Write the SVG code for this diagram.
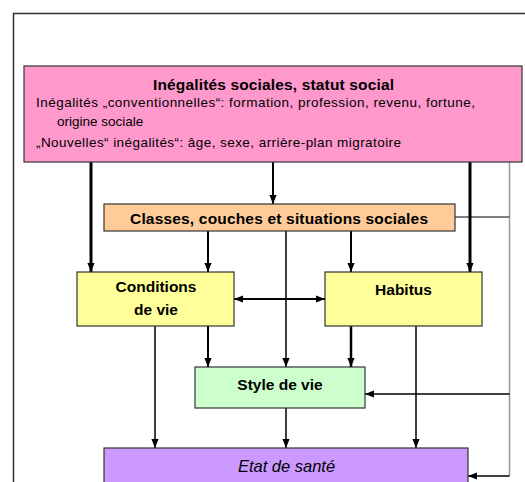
<svg xmlns="http://www.w3.org/2000/svg" width="525" height="482" viewBox="0 0 525 482">
<style>
  text { font-family: "Liberation Sans", Arial, sans-serif; fill: #000; }
  .b { font-weight: bold; font-size: 15.5px; text-anchor: middle; }
  .t { font-size: 13.5px; }
  .box { stroke: #333; stroke-width: 1.2; }
  .c { fill: none; stroke: #000; }
</style>
<defs>
  <marker id="ah" viewBox="0 0 10 10" refX="10" refY="5" markerUnits="userSpaceOnUse" markerWidth="9" markerHeight="9" orient="auto">
    <path d="M0,1 L10,5 L0,9 z" fill="#000"/>
  </marker>
  <marker id="ahs" viewBox="0 0 10 10" refX="0" refY="5" markerUnits="userSpaceOnUse" markerWidth="9" markerHeight="9" orient="auto">
    <path d="M10,1 L0,5 L10,9 z" fill="#000"/>
  </marker>
</defs>
<rect width="525" height="482" fill="#fff"/>
<path d="M13.5,482 V13.5 H525" fill="none" stroke="#333" stroke-width="1.5"/>

<g id="connectors">
  <path class="c" d="M509.5,162 V476" style="stroke:#999" stroke-width="1.5"/>
  <path class="c" d="M455,217 H509.5" style="stroke:#555" stroke-width="1.5"/>
  <path class="c" d="M91,162 V272" stroke-width="3" marker-end="url(#ah)"/>
  <path class="c" d="M273,162 V204" stroke-width="2" marker-end="url(#ah)"/>
  <path class="c" d="M470,162 V272" stroke-width="3" marker-end="url(#ah)"/>
  <path class="c" d="M509.5,394 H365" stroke-width="1.5" marker-end="url(#ah)"/>
  <path class="c" d="M509.5,476 H468" stroke-width="1.5" marker-end="url(#ah)"/>
  <path class="c" d="M208,231 V272" stroke-width="2" marker-end="url(#ah)"/>
  <path class="c" d="M351,231 V272" stroke-width="2" marker-end="url(#ah)"/>
  <path class="c" d="M286,231 V367" stroke-width="1.5" marker-end="url(#ah)"/>
  <path class="c" d="M234,299 H325" stroke-width="2" marker-start="url(#ahs)" marker-end="url(#ah)"/>
  <path class="c" d="M208,326 V367" stroke-width="2" marker-end="url(#ah)"/>
  <path class="c" d="M155,326 V448" stroke-width="1.5" marker-end="url(#ah)"/>
  <path class="c" d="M351,326 V367" stroke-width="2.5" marker-end="url(#ah)"/>
  <path class="c" d="M416,326 V448" stroke-width="1.5" marker-end="url(#ah)"/>
  <path class="c" d="M286,408 V448" stroke-width="1.5" marker-end="url(#ah)"/>
</g>

<g id="inegalites">
  <rect class="box" x="24" y="66" width="498" height="96" fill="#ff99cc"/>
  <text class="b" x="273.5" y="90" textLength="241" lengthAdjust="spacing">Inégalités sociales, statut social</text>
  <text class="t" x="36" y="107" textLength="439" lengthAdjust="spacing">Inégalités „conventionnelles“: formation, profession, revenu, fortune,</text>
  <text class="t" x="57" y="126">origine sociale</text>
  <text class="t" x="36" y="147" textLength="365" lengthAdjust="spacing">„Nouvelles“ inégalités“: âge, sexe, arrière-plan migratoire</text>
</g>

<g id="classes">
  <rect class="box" x="104" y="204" width="351" height="27" fill="#ffcc99"/>
  <text class="b" x="279" y="224" textLength="298" lengthAdjust="spacing">Classes, couches et situations sociales</text>
</g>

<g id="conditions">
  <rect class="box" x="77" y="272" width="157" height="54" fill="#ffff99"/>
  <text class="b" x="156" y="292">Conditions</text>
  <text class="b" x="156" y="315">de vie</text>
</g>

<g id="habitus">
  <rect class="box" x="325" y="272" width="157" height="54" fill="#ffff99"/>
  <text class="b" x="403.5" y="295">Habitus</text>
</g>

<g id="style">
  <rect class="box" x="195" y="367" width="170" height="41" fill="#ccffcc"/>
  <text class="b" x="280" y="390">Style de vie</text>
</g>

<g id="etat">
  <rect class="box" x="104" y="448" width="364" height="40" fill="#cc99ff"/>
  <text x="286.5" y="472" font-size="16.5" font-style="italic" text-anchor="middle">Etat de santé</text>
</g>
</svg>
